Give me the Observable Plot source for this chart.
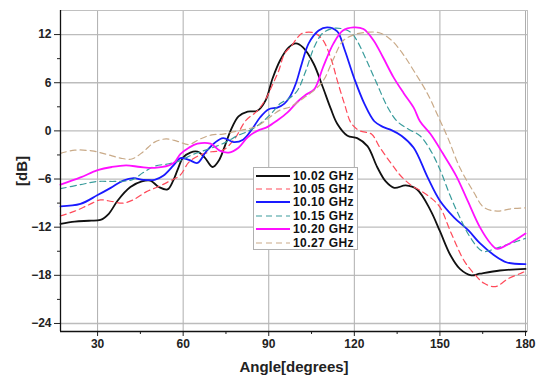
<!DOCTYPE html>
<html>
<head>
<meta charset="utf-8">
<script src="https://cdn.jsdelivr.net/npm/d3@7"></script>
<script src="https://cdn.jsdelivr.net/npm/@observablehq/plot@0.6"></script>
<style>
  body { margin: 0; background: #fff; }
  #wrap { position: relative; width: 537px; height: 378px; font-family: "Liberation Sans", Arial, sans-serif; }
  #legend { position: absolute; left: 253px; top: 167px; width: 105px; height: 83px; background: #fff; border: 1px solid #b0b0b0; box-sizing: border-box; padding-top: 1px; }
  #legend .row { display: flex; align-items: center; height: 13.4px; }
  #legend .row span { font-weight: bold; font-size: 12px; color: #111; margin-left: 2px; letter-spacing: 0.4px; }
  g[aria-label="x-axis label"] text, g[aria-label="y-axis label"] text { font-size: 15px; }
</style>
</head>
<body>
<div id="wrap"></div>
<script>
// ---- data (angle in degrees, gain in dB) ----
const xTicks = [30, 60, 90, 120, 150, 180];
const xMinor = [45, 75, 105, 135, 165];
const yTicks = [-24, -18, -12, -6, 0, 6, 12];
const yMinor = [-21, -15, -9, -3, 3, 9];

const s1002 = [[17,-11.6],[22,-11.3],[27,-11.2],[31,-11.1],[34,-10.3],[37,-8.7],[41.5,-7.0],[45.5,-6.3],[48.5,-6.2],[51.5,-7.0],[54.5,-7.3],[56.5,-6.2],[58,-4.9],[60,-3.3],[62.5,-2.7],[65,-2.6],[67.5,-3.3],[70.3,-4.5],[72.5,-3.7],[74.5,-2.0],[76.6,0],[79.4,1.8],[82.6,2.4],[86,2.5],[88.9,3.8],[91.3,6.5],[94,8.8],[97,10.4],[99.5,10.9],[102,10.4],[105.7,8.4],[109,5.4],[111.7,2.8],[114,0.9],[117.6,-0.6],[121,-0.9],[124.6,-1.9],[128,-4.5],[131,-6.3],[134,-7.1],[138,-6.8],[142,-7.3],[146.7,-9.9],[150,-12.5],[153.7,-15.5],[157,-17.2],[161,-18],[164,-17.8],[171,-17.4],[180,-17.2]];
const s1005 = [[17,-10.6],[22,-10.0],[27,-9.2],[31,-8.6],[35,-8.8],[39,-9.0],[43,-8.5],[47,-7.6],[51,-7.0],[55,-6.3],[59,-5.5],[62,-3.9],[66,-3.0],[70,-2.6],[74,-2.4],[78,-1.0],[82,1.3],[86,2.5],[89,4.0],[91.5,5.9],[93.5,7.5],[95.5,9.6],[98,10.6],[100,11.6],[102,12.2],[106,12.2],[109,11.3],[112,8.8],[114,6.3],[116.5,3.4],[119,0.9],[122,0],[126,-0.4],[129,-2.1],[133,-4.1],[136,-5.5],[140,-6.8],[143,-7.4],[147,-8.4],[150,-9.5],[154,-12.8],[158.5,-16.2],[162,-17.8],[165.5,-19],[169.5,-19.4],[174,-18.4],[178,-17.8],[180,-17.5]];
const s1010 = [[17,-9.4],[24,-9.1],[30,-8.0],[34.6,-7.1],[39,-6.2],[42.6,-5.9],[46,-6.1],[50,-6.1],[53,-5.6],[56.6,-4.3],[59,-3.4],[62,-3.6],[65,-4.0],[68,-2.6],[71,-1.5],[74,-0.9],[77.7,-1.4],[81,-1.1],[84.3,0.3],[87,1.7],[90,2.7],[93,2.9],[95.5,3.4],[97.5,4.3],[99.5,5.9],[101.6,8.4],[104,10.9],[107.5,12.5],[110.5,12.9],[114,12.4],[116.5,10.2],[120,6.5],[123.5,3.4],[127,1.2],[130,0.5],[133,0.1],[136.5,-0.6],[140.8,-2.1],[145.7,-5.8],[150,-8.7],[155,-10.8],[160,-12.4],[164,-14],[169,-15.5],[173.5,-16.4],[180,-16.6]];
const s1015 = [[17,-7.2],[24,-6.7],[30,-6.3],[36,-6.3],[42,-6.1],[46,-5.2],[50,-4.4],[55,-4.1],[59,-3.7],[63,-3.0],[67,-2.5],[71,-2.0],[75,-1.4],[79,-0.6],[83,0],[87,0.9],[91,2.2],[94,3.4],[97,4.0],[100,5.0],[103,7.5],[106,10.5],[109,12.2],[113,12.8],[117,12.6],[119,12.2],[121,11.2],[124.5,8.6],[128,5.8],[131.6,3.0],[135,1.2],[139,0.2],[143,-0.6],[146.5,-2.3],[150,-4.8],[153.5,-8.0],[157,-10.8],[160.7,-13.3],[165,-15],[170,-14.6],[175,-14],[180,-13.4]];
const s1020 = [[17,-6.7],[24,-5.8],[30,-4.9],[35,-4.5],[40,-4.3],[45,-4.5],[50,-4.6],[55,-4.3],[57,-3.9],[59,-2.9],[62,-2.1],[65,-1.6],[69.6,-1.6],[73,-2.5],[76,-2.7],[79.4,-2.1],[82.6,-0.8],[86,0],[89.6,0.5],[93,1.3],[96.6,2.3],[100,3.6],[103,4.5],[106,5.2],[109,7.9],[112.7,10.9],[116,12.5],[119.7,12.9],[123.2,12.7],[126.7,11.3],[130,9.2],[133.7,6.7],[137.3,4.7],[140.8,2.9],[143,1.2],[146.7,-0.4],[151,-2.8],[155.7,-5.6],[159.7,-8.7],[164,-12],[167.7,-14],[170,-14.7],[174.6,-14],[180,-12.8]];
const s1027 = [[17,-2.8],[22,-2.4],[28,-2.5],[33,-2.9],[38,-3.4],[42,-3.5],[46,-2.6],[50,-1.4],[54,-1.0],[58,-1.3],[62,-1.7],[66,-1.0],[70,-0.5],[74,-0.4],[78,-0.1],[82,0.2],[86,0.6],[90,1.6],[94,2.6],[97.6,3.0],[101,3.8],[105,4.8],[109,6.2],[112.7,9.0],[116,11.2],[120,12.0],[125,12.3],[129,12.2],[133,11.3],[137,9.6],[141,7.4],[145.7,4.6],[149,2.1],[152.7,-0.8],[157,-4.6],[161.8,-7.6],[165.3,-9.5],[170,-10],[175,-9.7],[180,-9.6]];

const seriesNames = ["10.02 GHz", "10.05 GHz", "10.10 GHz", "10.15 GHz", "10.20 GHz", "10.27 GHz"];
const seriesData = [s1002, s1005, s1010, s1015, s1020, s1027];

// ---- styles ----
const styles = [
  {stroke: "#111111", width: 1.8, dash: null},
  {stroke: "#ff4a5a", width: 1.2, dash: "6,4"},
  {stroke: "#1a1aff", width: 1.8, dash: null},
  {stroke: "#3a9c9c", width: 1.2, dash: "6,4"},
  {stroke: "#ff10ff", width: 1.8, dash: null},
  {stroke: "#c9aa88", width: 1.2, dash: "6,4"}
];

const lineMarks = seriesData.map((d, i) => Plot.line(d, {
  x: p => p[0], y: p => p[1], curve: "catmull-rom",
  stroke: styles[i].stroke, strokeWidth: styles[i].width,
  strokeDasharray: styles[i].dash || undefined
}));

const chart = Plot.plot({
  width: 537, height: 378,
  marginLeft: 60, marginRight: 10, marginTop: 10, marginBottom: 47,
  style: {fontFamily: "'Liberation Sans', Arial, sans-serif", fontWeight: "bold", fontSize: "12px", color: "#222", background: "#fff"},
  x: {domain: [17, 180.7]},
  y: {domain: [-25, 15]},
  marks: [
    Plot.gridX(xTicks, {stroke: "#9a9a9a", strokeOpacity: 0.8, strokeWidth: 1}),
    Plot.gridY(yTicks, {stroke: "#b5b5b5", strokeOpacity: 0.9, strokeWidth: 1.3}),
    Plot.frame({stroke: "#c0c0c0"}),
    ...lineMarks,
    Plot.axisX(xMinor, {tickSize: 3, text: null, label: null}),
    Plot.axisY(yMinor, {tickSize: 3, text: null, label: null}),
    Plot.axisX(xTicks, {tickSize: 5, tickPadding: 3, label: "Angle[degrees]", labelAnchor: "center", labelOffset: 40, labelArrow: "none"}),
    Plot.axisY(yTicks, {tickSize: 6, tickPadding: 3, label: "[dB]", labelAnchor: "center", labelOffset: 44, labelArrow: "none"}),
    Plot.ruleX([17], {stroke: "#111", strokeWidth: 1.3}),
    Plot.ruleY([-25], {stroke: "#111", strokeWidth: 1.3})
  ]
});

const wrap = document.getElementById("wrap");
wrap.appendChild(chart);

// legend
const legend = document.createElement("div");
legend.id = "legend";
seriesNames.forEach((name, i) => {
  const row = document.createElement("div");
  row.className = "row";
  const st = styles[i];
  row.innerHTML = `<svg width="35" height="6" style="margin-left:2px"><line x1="0" y1="3" x2="34" y2="3" stroke="${st.stroke}" stroke-width="${st.width}" ${st.dash ? `stroke-dasharray="${st.dash}"` : ""}/></svg><span>${name}</span>`;
  legend.appendChild(row);
});
wrap.appendChild(legend);
</script>
</body>
</html>
